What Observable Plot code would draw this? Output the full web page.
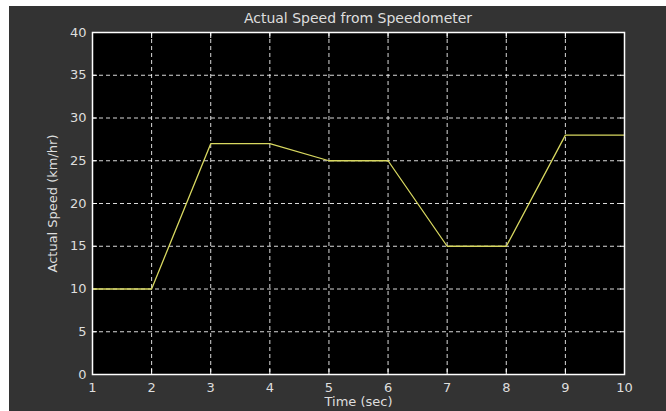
<!DOCTYPE html>
<html>
<head>
<meta charset="utf-8">
<script src="https://cdn.jsdelivr.net/npm/d3@7"></script>
<script src="https://cdn.jsdelivr.net/npm/@observablehq/plot@0.6"></script>
<style>
  html, body { margin: 0; padding: 0; background: #ffffff; width: 666px; height: 411px; overflow: hidden; }
  #bg { position: absolute; left: 9px; top: 6px; width: 657px; height: 405px; background: #333333; }
  #title { position: absolute; left: 92px; width: 532px; top: 10px; text-align: center;
           font-family: "DejaVu Sans", sans-serif; font-size: 14px; color: #dedede; line-height: 16px; }
  #chart { position: absolute; left: 0; top: 0; }
</style>
</head>
<body>
<div id="bg"></div>
<div id="title">Actual Speed from Speedometer</div>
<div id="chart"></div>
<script>
const time = [1, 2, 3, 4, 5, 6, 7, 8, 9, 10];
const speed = [10, 10, 27, 27, 25, 25, 15, 15, 28, 28];
const xTicks = [1, 2, 3, 4, 5, 6, 7, 8, 9, 10];
const yTicks = [0, 5, 10, 15, 20, 25, 30, 35, 40];

const data = time.map((t, i) => ({t, v: speed[i]}));
const fg = "#dedede";
const blank = () => "";

const chart = Plot.plot({
  width: 666,
  height: 411,
  marginLeft: 92,
  marginRight: 42,
  marginTop: 32,
  marginBottom: 37,
  style: {background: "transparent", color: fg, fontFamily: "DejaVu Sans, sans-serif", fontSize: "13px"},
  x: {domain: [1, 10], ticks: xTicks},
  y: {domain: [0, 40], ticks: yTicks},
  marks: [
    Plot.frame({fill: "#000000", stroke: null}),
    Plot.gridX(xTicks, {stroke: "#ffffff", strokeOpacity: 0.85, strokeDasharray: "4,3"}),
    Plot.gridY(yTicks, {stroke: "#ffffff", strokeOpacity: 0.85, strokeDasharray: "4,3"}),
    Plot.axisX(xTicks, {anchor: "bottom", tickSize: 0, tickPadding: 8, fontSize: 13, label: "Time (sec)", labelAnchor: "center", labelOffset: 31, labelArrow: "none"}),
    Plot.axisY(yTicks, {anchor: "left", tickSize: 0, tickPadding: 6, fontSize: 13, label: "Actual Speed (km/hr)", labelAnchor: "center", labelOffset: 45, labelArrow: "none"}),
    Plot.axisX(xTicks, {anchor: "bottom", tickSize: -5, stroke: "#ffffff", tickFormat: blank, label: null}),
    Plot.axisX(xTicks, {anchor: "top", tickSize: -5, stroke: "#ffffff", tickFormat: blank, label: null}),
    Plot.axisY(yTicks, {anchor: "left", tickSize: -5, stroke: "#ffffff", tickFormat: blank, label: null}),
    Plot.axisY(yTicks, {anchor: "right", tickSize: -5, stroke: "#ffffff", tickFormat: blank, label: null}),
    Plot.line(data, {x: "t", y: "v", stroke: "#d8d860", strokeWidth: 1.3}),
    Plot.frame({stroke: "#ffffff", strokeWidth: 1.5})
  ]
});
document.getElementById("chart").appendChild(chart);
</script>
</body>
</html>
